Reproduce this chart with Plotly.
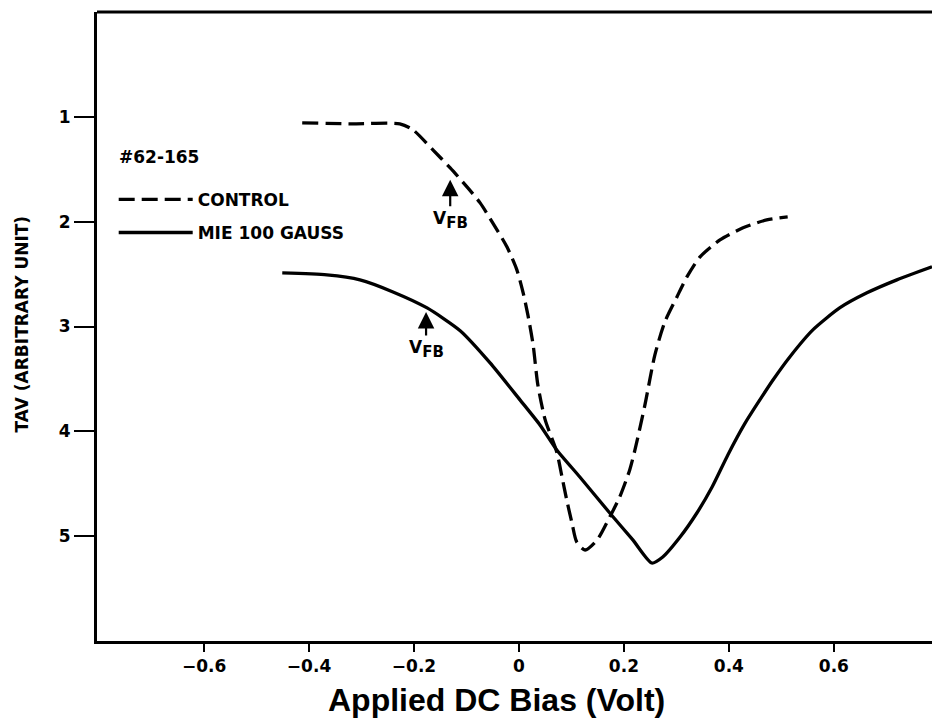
import plotly.graph_objects as go

# Control (dashed) curve: applied bias (V) vs TAV (arb. unit)
control_x = [-0.413, -0.322, -0.227, -0.202, -0.164, -0.131, -0.099, -0.074, -0.050,
             -0.023, -0.004, 0.008, 0.017, 0.027, 0.036, 0.050, 0.072, 0.082, 0.091,
             0.101, 0.110, 0.126, 0.149, 0.173, 0.192, 0.211, 0.221, 0.240, 0.259,
             0.278, 0.301, 0.320, 0.345, 0.383, 0.427, 0.472, 0.512]
control_y = [1.057, 1.067, 1.067, 1.124, 1.315, 1.487, 1.668, 1.821, 2.011,
             2.240, 2.460, 2.679, 2.889, 3.176, 3.557, 3.891, 4.197, 4.435, 4.655,
             4.874, 5.055, 5.132, 5.036, 4.817, 4.626, 4.368, 4.177, 3.748, 3.271,
             2.956, 2.718, 2.527, 2.336, 2.174, 2.059, 1.983, 1.954]

# MIE 100 gauss (solid) curve
mie_x = [-0.451, -0.366, -0.303, -0.240, -0.175, -0.112, -0.055, 0.002, 0.040,
         0.072, 0.116, 0.173, 0.217, 0.253, 0.274, 0.307, 0.339, 0.368, 0.398,
         0.430, 0.459, 0.484, 0.516, 0.560, 0.611, 0.663, 0.720, 0.787]
mie_y = [2.489, 2.508, 2.555, 2.670, 2.823, 3.040, 3.347, 3.700, 3.939,
         4.177, 4.435, 4.779, 5.036, 5.256, 5.198, 5.008, 4.779, 4.531, 4.225,
         3.929, 3.700, 3.510, 3.290, 3.032, 2.823, 2.679, 2.555, 2.431]

# flat-band voltage markers (arrow tips), [control, mie]
vfb_x = [-0.131, -0.177]
vfb_y = [1.601, 2.861]

sample_label = "#62-165"
x_ticks = [-0.6, -0.4, -0.2, 0, 0.2, 0.4, 0.6]
x_ticklabels = ["\u22120.6", "\u22120.4", "\u22120.2", "0", "0.2", "0.4", "0.6"]
y_ticks = [1, 2, 3, 4, 5]
y_ticklabels = ["1", "2", "3", "4", "5"]

BOLD = dict(family="DejaVu Sans", size=17, color="black", weight="bold")

fig = go.Figure()
fig.add_trace(go.Scatter(x=control_x, y=control_y, mode="lines", name="CONTROL",
                         legendgroup="a",
                         line=dict(color="black", width=3.3, dash="16px,7px",
                                   shape="spline", smoothing=0.7)))
fig.add_trace(go.Scatter(x=mie_x, y=mie_y, mode="lines", name="MIE 100 GAUSS",
                         legendgroup="b",
                         line=dict(color="black", width=3.3,
                                   shape="spline", smoothing=0.6)))

for vx, vy, ay in zip(vfb_x, vfb_y, [40, 37]):
    fig.add_annotation(x=vx, y=vy, xref="x", yref="y",
                       text="V<sub><span style='font-size:15px'>FB</span></sub>",
                       showarrow=True, ax=0, ay=ay, arrowhead=2, arrowsize=1.5,
                       arrowwidth=2.2, arrowcolor="black", font=BOLD)

fig.add_annotation(text=sample_label, xref="paper", yref="paper",
                   x=0.0235, y=0.769, xanchor="left", yanchor="middle",
                   showarrow=False, font=BOLD)

fig.add_annotation(text="Applied DC Bias (Volt)", xref="paper", yref="paper",
                   x=0.478, y=-0.094, xanchor="center", yanchor="middle",
                   showarrow=False,
                   font=dict(family="Liberation Sans", size=32, color="black", weight="bold"))
fig.add_annotation(text="TAV (ARBITRARY UNIT)", xref="paper", yref="paper",
                   x=-0.0904, y=0.504, xanchor="center", yanchor="middle",
                   textangle=-90, showarrow=False, font=BOLD)

# top frame line
fig.add_shape(type="line", xref="paper", yref="paper", x0=0, x1=1, y0=1, y1=1,
              line=dict(color="black", width=3))

fig.update_layout(
    width=932, height=726,
    margin=dict(l=97, r=0, t=12, b=85),
    paper_bgcolor="white", plot_bgcolor="white",
    showlegend=True,
    legend=dict(x=0.02, y=0.730, xanchor="left", yanchor="top",
                font=BOLD, itemwidth=74, tracegroupgap=8,
                traceorder="grouped", bgcolor="rgba(0,0,0,0)"),
    xaxis=dict(range=[-0.804, 0.787], tickvals=x_ticks, ticktext=x_ticklabels,
               showgrid=False, zeroline=False, showline=True, linecolor="black",
               linewidth=3, ticks="outside", ticklen=8, tickwidth=1.5,
               tickcolor="black", tickfont=BOLD),
    yaxis=dict(range=[6, 0], tickvals=y_ticks, ticktext=y_ticklabels,
               showgrid=False, zeroline=False, showline=True, linecolor="black",
               linewidth=3, ticks="outside", ticklen=20, tickwidth=1.5,
               tickcolor="black", tickfont=BOLD),
)

fig.write_html("out.html")
